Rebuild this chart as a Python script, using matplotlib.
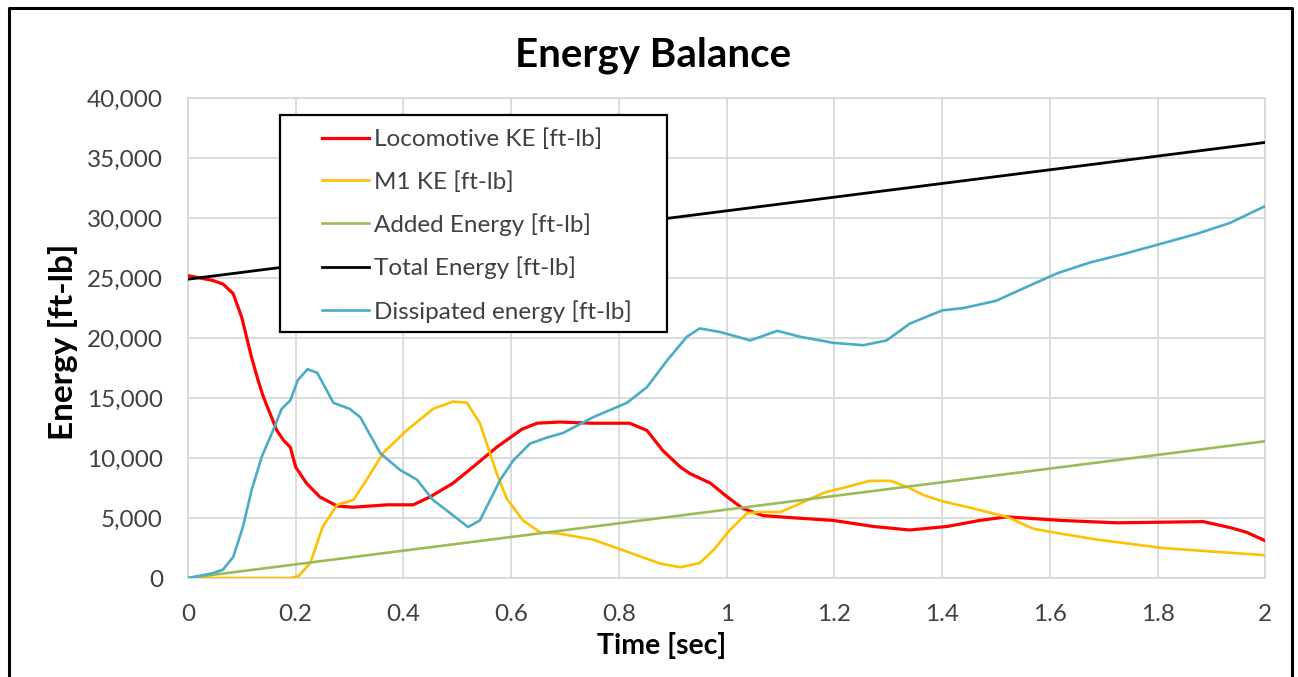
import numpy as np
import matplotlib
matplotlib.use("Agg")
import matplotlib.pyplot as plt
from matplotlib.patches import Rectangle
from matplotlib.lines import Line2D
from matplotlib.ticker import FuncFormatter

plt.rcParams['font.family'] = ['Lato', 'DejaVu Sans']

# --- data ---
t_loco = [0, 0.046, 0.065, 0.084, 0.10, 0.118, 0.13, 0.14, 0.165, 0.177, 0.19, 0.20, 0.22,
          0.245, 0.277, 0.307, 0.37, 0.418, 0.449, 0.492, 0.529, 0.573, 0.62, 0.648,
          0.69, 0.75, 0.82, 0.852, 0.882, 0.914, 0.932, 0.97, 1.0, 1.03, 1.068, 1.13,
          1.198, 1.272, 1.34, 1.41, 1.47, 1.52, 1.62, 1.725, 1.885, 1.935, 1.966, 2.0]
e_loco = [25200, 24800, 24500, 23700, 21700, 18400, 16500, 15100, 12300, 11500, 10900, 9250,
          7900, 6750, 6000, 5900, 6100, 6100, 6750, 7900, 9250, 10900, 12400, 12900,
          13000, 12900, 12900, 12300, 10600, 9250, 8700, 7900, 6800, 5800, 5200, 5000,
          4800, 4300, 4000, 4300, 4800, 5100, 4800, 4600, 4700, 4200, 3800, 3100]

t_m1 = [0, 0.19, 0.205, 0.227, 0.25, 0.277, 0.307, 0.332, 0.362, 0.406, 0.455, 0.492,
        0.518, 0.542, 0.573, 0.592, 0.622, 0.654, 0.69, 0.752, 0.815, 0.877, 0.914,
        0.95, 0.975, 1.006, 1.038, 1.062, 1.10, 1.136, 1.18, 1.224, 1.266, 1.304, 1.335,
        1.366, 1.40, 1.458, 1.52, 1.57, 1.62, 1.688, 1.81, 1.935, 2.0]
e_m1 = [0, 0, 150, 1250, 4250, 6100, 6500, 8200, 10400, 12300, 14100, 14700,
        14600, 12900, 8750, 6600, 4800, 3800, 3700, 3200, 2200, 1200, 900,
        1250, 2300, 4000, 5400, 5500, 5500, 6200, 7100, 7600, 8100, 8100, 7600,
        6900, 6400, 5800, 5100, 4100, 3700, 3200, 2500, 2100, 1900]

t_added = [0, 2]
e_added = [0, 11400]

t_total = [0, 2]
e_total = [24900, 36300]

t_diss = [0, 0.046, 0.065, 0.084, 0.102, 0.118, 0.137, 0.158, 0.174, 0.19, 0.204,
          0.222, 0.24, 0.258, 0.27, 0.30, 0.32, 0.357, 0.394, 0.425, 0.455, 0.487,
          0.52, 0.542, 0.58, 0.604, 0.635, 0.666, 0.697, 0.752, 0.815, 0.852, 0.889,
          0.926, 0.95, 0.988, 1.044, 1.094, 1.137, 1.198, 1.254, 1.297, 1.34, 1.40,
          1.44, 1.50, 1.564, 1.614, 1.675, 1.737, 1.81, 1.874, 1.935, 2.0]
e_diss = [0, 400, 700, 1750, 4250, 7300, 10100, 12300, 14100, 14800, 16500,
          17400, 17100, 15600, 14600, 14100, 13400, 10400, 9000, 8200, 6500, 5400,
          4250, 4800, 8200, 9800, 11200, 11700, 12100, 13400, 14600, 15900, 18100,
          20100, 20800, 20500, 19800, 20600, 20100, 19600, 19400, 19800, 21200, 22300,
          22500, 23100, 24400, 25400, 26300, 27000, 27900, 28700, 29600, 31000]

labels = ["Locomotive KE [ft-lb]", "M1 KE [ft-lb]", "Added Energy [ft-lb]",
          "Total Energy [ft-lb]", "Dissipated energy [ft-lb]"]
colors = ["#FF0000", "#FFC000", "#9BBB59", "#000000", "#4BACC6"]

# --- plot ---
fig = plt.figure(figsize=(12.98, 6.77), dpi=100)
ax = fig.add_axes([0.1448, 0.1462, 0.83, 0.709])

series = [(t_loco, e_loco), (t_m1, e_m1), (t_added, e_added),
          (t_total, e_total), (t_diss, e_diss)]
widths = [2.3, 1.9, 1.9, 2.0, 1.9]
handles = []
for (t, e), lab, c, w in zip(series, labels, colors, widths):
    h, = ax.plot(t, e, color=c, lw=w, label=lab, zorder=3)
    handles.append(h)

ax.set_xlim(0, 2)
ax.set_ylim(0, 40000)
ax.set_xticks(np.arange(0, 2.01, 0.2))
ax.set_xticklabels(["0", "0.2", "0.4", "0.6", "0.8", "1", "1.2", "1.4", "1.6", "1.8", "2"])
ax.set_yticks(np.arange(0, 40001, 5000))
ax.yaxis.set_major_formatter(FuncFormatter(lambda v, p: f"{int(v):,}"))
ax.tick_params(length=0, labelsize=17.5, colors="#404040")
ax.tick_params(axis='x', pad=19)
ax.tick_params(axis='y', pad=18)
ax.grid(True, color="#D9D9D9", lw=1.3)
ax.set_axisbelow(True)
for s in ax.spines.values():
    s.set_color("#D9D9D9")
    s.set_linewidth(1.3)

ax.set_xlabel("Time [sec]", fontsize=20.5, fontweight='bold')
ax.xaxis.set_label_coords(0.4401, -0.112)
ax.set_ylabel("Energy [ft-lb]", fontsize=24, fontweight='bold')
ax.yaxis.set_label_coords(-0.102, 0.492)
fig.text(0.5035, 1 - 67/677, "Energy Balance", fontsize=29, fontweight='bold',
         ha='center', va='baseline')

# legend box
ax.add_patch(Rectangle((0.0854, 0.5125), 0.3594, 0.4521, transform=ax.transAxes,
                       facecolor='white', edgecolor='black', lw=1.6, zorder=4))
leg = ax.legend(handles=handles, loc='upper left', bbox_to_anchor=(0.1244, 0.936),
                frameon=False, fontsize=17.5, borderpad=0, borderaxespad=0,
                handlelength=1.95, handletextpad=0.2, labelspacing=0.85)
leg.set_zorder(5)
for txt in leg.get_texts():
    txt.set_color("#404040")

# outer chart frame (left, top, right)
fig.add_artist(Line2D([9/1298, 9/1298, 1292/1298, 1292/1298],
                      [0, 1 - 8/677, 1 - 8/677, 0], color='black', lw=2.2,
                      transform=fig.transFigure))

fig.savefig("out.png", dpi=100)
